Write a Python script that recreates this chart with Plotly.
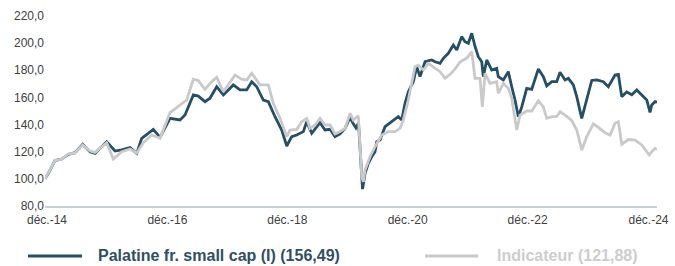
import numpy as np
import plotly.graph_objects as go

# time in months since end of Dec 2014
pal_t = [0, 0.66, 1.99, 3.33, 4.65, 5.98, 7.52, 8.97, 9.97, 12.3, 13.96, 15.29, 16.95, 18.28, 19.28,
         20.93, 21.59, 22.93, 24.92, 26.91, 27.91, 29.57, 30.56, 31.9, 32.89, 34.23, 35.55, 37.54,
         38.88, 40.21, 41.21, 42.21, 43.52, 44.52, 45.85, 47.19, 48.19, 49.18, 50.18, 51.5, 52.17,
         53.17, 54.17, 54.82, 55.82, 56.82, 57.81, 58.81, 59.81, 60.81, 61.4, 62.0, 62.5, 62.9, 63.3,
         63.8, 64.45, 65.13, 65.79, 66.13, 66.79, 67.78, 69.12, 69.78, 70.43, 71.11, 71.77, 72.43,
         73.42, 74.1, 74.76, 75.76, 77.09, 77.75, 78.75, 79.41, 80.4, 81.4, 82.08, 83.07, 83.73,
         84.39, 85.07, 85.73, 86.38, 87.06, 87.38, 88.06, 89.05, 90.05, 90.37, 91.37, 92.36, 93.04,
         93.7, 94.36, 95.04, 96.03, 97.03, 98.35, 99.34, 100.02, 101.02, 102.01, 102.67, 103.67,
         104.33, 105.32, 106.0, 107.0, 108.0, 108.99, 109.99, 111.3, 112.3, 113.64, 114.3, 114.97,
         115.97, 116.97, 117.96, 118.96, 119.96, 120.61, 120.95, 121.61, 122.0]
pal_v = [100, 104, 113.5, 114.6, 118, 119.3, 125.5, 120, 118.8, 127.4, 120.5, 121.3, 123, 118.8, 129.9,
         134.7, 136.5, 130.6, 144.6, 143.4, 147, 161.8, 161, 156.9, 159.4, 167.9, 161.8, 169.2,
         165.5, 165.5, 171.6, 167.9, 158.1, 156.9, 145.8, 136, 124.2, 131.1, 132.3, 134.8, 142.1,
         133.6, 138, 141.4, 136, 136.5, 131.1, 133.1, 137.2, 145.3, 141, 137.5, 141, 120, 92.5,
         104, 111.4, 116.3, 120, 127.4, 128.6, 138.4, 142.1, 144.6, 145.8, 143.4, 155.7, 164.2,
         171.6, 182.6, 175.3, 186.3, 187.6, 186.3, 185.1, 188.8, 192.5, 198.6, 195, 204.8, 201.1,
         199.9, 207.3, 197.5, 190, 186.3, 175.3, 187.6, 180.2, 181.5, 175.3, 172.9, 179, 167.9,
         158.1, 145.8, 153, 166.7, 166, 181, 175.3, 168.5, 171.6, 171.6, 178.5, 172.9,
         174.1, 169.2, 160.6, 144.6, 158.1, 172.5, 172.9, 171.6, 167.9, 176.5, 177, 160.6,
         164, 162, 165.5, 161.8, 158.1, 149, 154.4, 157, 156.49]

ind_t = [0, 0.66, 1.99, 3.33, 4.65, 5.98, 7.52, 8.97, 9.97, 12.3, 13.62, 15.29, 16.95, 18.28, 19.54,
         21.27, 22.93, 24.92, 26.58, 28.25, 29.57, 30.56, 31.9, 33.23, 34.23, 35.55, 37.88, 39.21,
         40.21, 41.21, 42.86, 44.52, 45.51, 46.85, 48.19, 48.84, 50.18, 51.18, 52.17, 52.83, 53.83,
         54.82, 55.82, 56.82, 57.81, 58.81, 59.81, 60.81, 61.46, 62.46, 63.14, 63.46, 63.8, 64.79,
         65.79, 67.13, 68.44, 69.78, 70.77, 71.43, 72.43, 73.1, 73.76, 74.42, 75.42, 76.42, 77.75,
         78.75, 79.74, 80.74, 81.74, 82.74, 84.07, 85.07, 85.73, 86.72, 87.18, 87.72, 88.72, 90.05,
         90.37, 91.37, 92.36, 93.04, 94.04, 94.7, 96.03, 97.03, 98.35, 99.34, 100.02, 101.02, 102.01,
         102.67, 103.67, 105.0, 106.0, 107.0, 108.0, 109.31, 110.31, 111.64, 112.64, 113.64, 114.3,
         114.97, 116.29, 117.62, 118.96, 119.62, 120.47, 120.95, 121.61, 122.0]
ind_v = [100, 104.5, 113.5, 114.5, 118.5, 119, 125, 120.5, 119.5, 126.5, 114.6, 120, 122, 119, 126.4,
         132.3, 129.9, 148.8, 153.2, 158.1, 173.4, 172.4, 166, 171.6, 174.8, 164.2, 176.5, 173.4,
         172.9, 177.8, 169.2, 169.2, 155.7, 144.6, 131.1, 136, 136.5, 142.1, 144.6, 137.2, 139.7,
         144.6, 139.7, 139.7, 133.1, 134.8, 137.2, 148.3, 143.4, 146.5, 101.6, 97.9, 106.5, 116.3,
         123.7, 132.3, 134.8, 134.8, 137.2, 143.4, 158.1, 169.2, 182.6, 183.8, 180.2, 185.1, 181.7,
         179, 174.1, 177, 181, 186, 189, 193.7, 174, 174, 153, 177.8, 170.4, 171.6,
         163, 170.4, 166.7, 159.4, 136, 147, 150, 150, 157.5, 153, 144.6, 145.8, 146,
         149.5, 147, 143, 136, 121.2, 131.1, 140.5, 138, 134, 132.3, 141, 142.1,
         125.5, 129, 128.6, 125, 121.5, 117.6, 120, 122.5, 121.88]

tick_t = [0.4, 24.4, 48.3, 72.3, 96.2, 120.3]
tick_labels = ["déc.-14", "déc.-16", "déc.-18", "déc.-20", "déc.-22", "déc.-24"]
y_ticks = [80, 100, 120, 140, 160, 180, 200, 220]

series_names = ["Palatine fr. small cap (I) (156,49)", "Indicateur (121,88)"]
DARK = "#234f67"
GRAY = "#c9c9c9"

fig = go.Figure()
fig.add_trace(go.Scatter(x=pal_t, y=pal_v, mode="lines", name=series_names[0],
                         line=dict(color=DARK, width=2.8), showlegend=False))
fig.add_trace(go.Scatter(x=ind_t, y=ind_v, mode="lines", name=series_names[1],
                         line=dict(color=GRAY, width=2.8), showlegend=False))

# manual legend
legend_items = [(-0.0278, 0.0605, 0.0833, DARK, "#2f4f62", series_names[0]),
                (0.621, 0.7075, 0.735, GRAY, "#cdcdcd", series_names[1])]
for x0, x1, xt, lc, tc, txt in legend_items:
    fig.add_shape(type="line", xref="paper", yref="paper", x0=x0, x1=x1, y0=-0.263, y1=-0.263,
                  line=dict(color=lc, width=3))
    fig.add_annotation(xref="paper", yref="paper", x=xt, y=-0.263, text="<b>" + txt + "</b>",
                       showarrow=False, xanchor="left", yanchor="middle",
                       font=dict(family="Liberation Sans Narrow, Arial Narrow, Liberation Sans", size=16, color=tc))

fig.update_layout(
    width=675, height=266,
    margin=dict(l=45, r=18, t=16, b=60),
    paper_bgcolor="white", plot_bgcolor="white",
    separators=", ",
    font=dict(family="Liberation Sans, Arial", size=12, color="#404040"),
    xaxis=dict(range=[0, 122], tickmode="array", tickvals=tick_t, ticktext=tick_labels,
               showgrid=False, zeroline=False, showline=True, linecolor="#c8d2d5", linewidth=2,
               ticks="outside", ticklen=2, tickcolor="rgba(0,0,0,0)", automargin=False),
    yaxis=dict(range=[80, 220], tickmode="array", tickvals=y_ticks, tickformat=".1f",
               showgrid=False, zeroline=False, showline=False, ticks="", automargin=False),
)

fig.write_html("out.html", config={"displayModeBar": False},
               post_script="document.body.style.margin='0';document.body.style.overflow='hidden';")
